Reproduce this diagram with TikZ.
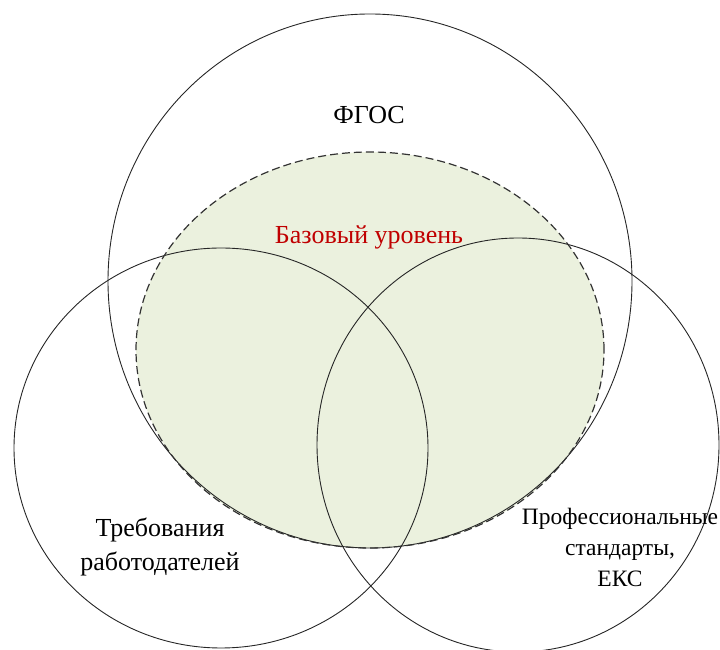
\documentclass[tikz,border=0pt]{standalone}
\usepackage{fontspec}
\setmainfont{Liberation Serif}
\definecolor{basefill}{HTML}{EBF1DE}
\definecolor{basered}{HTML}{C00000}
\tikzset{
  ring/.style={draw=black!85, line width=0.9pt},
  basezone/.style={draw=black!80, line width=1.2pt, dash pattern=on 8pt off 4pt},
  lbl/.style={font=\fontsize{26}{34}\selectfont, align=center, inner sep=0pt}
}
\begin{document}
\begin{tikzpicture}[x=1pt,y=1pt]
\useasboundingbox (0,0) rectangle (720,650);
\begin{scope}
\clip (0,0) rectangle (720,650);
% base level fill
\fill[basefill] (370,300) ellipse [x radius=234, y radius=198];
% circles
\draw[ring] (370,369) ellipse [x radius=262, y radius=267];
\draw[ring] (221,202) ellipse [x radius=207, y radius=200];
\draw[ring] (518,205) ellipse [x radius=201, y radius=207];
% dashed outline
\draw[basezone] (370,300) ellipse [x radius=234, y radius=198];
\end{scope}
\node[lbl] (fgos) at (369,535) {ФГОС};
\node[lbl, text=basered] (base) at (369,413) {Базовый уровень};
\node[lbl] (empl) at (160,103) {Требования\\работодателей};
\node[lbl, font=\fontsize{23.5}{31}\selectfont] (prof) at (620,103) {Профессиональные\\стандарты,\\ЕКС};
\end{tikzpicture}
\end{document}
